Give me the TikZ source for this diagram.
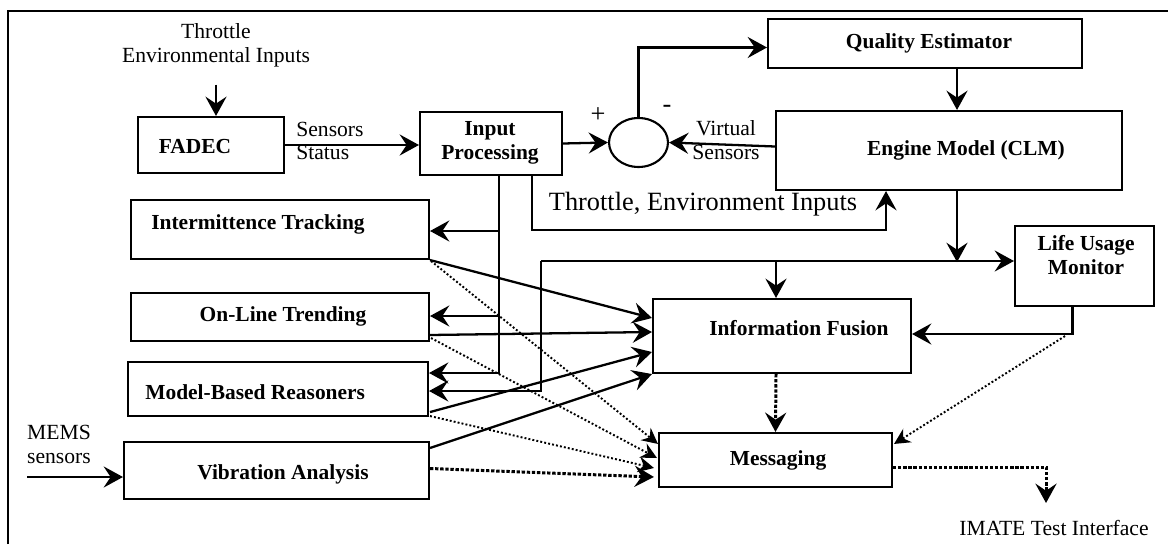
\documentclass[tikz,border=0pt]{standalone}
\usepackage{fontspec}
\setmainfont{Liberation Serif}
\usepackage{tikz}
\usetikzlibrary{arrows.meta,shapes.geometric,calc}

\begin{document}
\begin{tikzpicture}[x=0.02cm,y=-0.02cm,
    box/.style={draw,line width=1.2pt,rectangle,inner sep=0pt},
    txt/.style={inner sep=0pt,align=center,font=\fontsize{12.3}{13.6}\selectfont},
    btxt/.style={txt,font=\fontsize{12.2}{13.6}\selectfont\bfseries},
    arr/.style={line width=1.3pt,-{Stealth[length=11pt,width=12pt,inset=4pt]}},
    dotarr/.style={line width=1.1pt,dash pattern=on 1.1pt off 1.2pt,-{Stealth[length=9pt,width=9pt,inset=3pt]}},
    thickdot/.style={line width=1.7pt,dash pattern=on 1.9pt off 1pt,-{Stealth[length=11pt,width=12pt,inset=4pt]}}]
  \useasboundingbox (0,0) rectangle (1168,544);
  \draw[line width=1.1pt] (8,544) -- (8,11) -- (1168,11);

  \node[box,minimum width=2.92cm,minimum height=1.12cm] (fadec) at (211,145) {};
  \node[box,minimum width=2.84cm,minimum height=1.26cm] (inproc) at (491,143.5) {};
  \node[draw,ellipse,line width=1.2pt,minimum width=1.18cm,minimum height=0.98cm,inner sep=0pt] (sum) at (638.5,142.5) {};
  \node[box,minimum width=6.28cm,minimum height=0.98cm] (qe) at (925,43.5) {};
  \node[box,minimum width=6.92cm,minimum height=1.58cm] (clm) at (949,150.5) {};
  \node[box,minimum width=2.78cm,minimum height=1.6cm] (lum) at (1084.5,266) {};
  \node[box,minimum width=5.96cm,minimum height=1.18cm] (it) at (280,229.5) {};
  \node[box,minimum width=5.96cm,minimum height=0.96cm] (olt) at (280,317) {};
  \node[box,minimum width=6.0cm,minimum height=1.08cm] (mbr) at (278,389) {};
  \node[box,minimum width=6.1cm,minimum height=1.14cm] (va) at (276.5,470.5) {};
  \node[box,minimum width=5.16cm,minimum height=1.48cm] (fus) at (782,336) {};
  \node[box,minimum width=4.66cm,minimum height=1.08cm] (msg) at (775.5,460) {};

  \node[txt] (thr) at (216,45) {Throttle\\Environmental Inputs};
  \node[btxt] (fadec-t) at (195,147) {FADEC};
  \node[txt,anchor=west,align=left] (sens) at (296,141) {Sensors\\Status};
  \node[btxt] (inproc-t) at (490,143) {Input\\Processing};
  \node[txt,font=\fontsize{15}{17}\selectfont] (plus) at (598,115) {+};
  \node[txt,font=\fontsize{15}{17}\selectfont] (minus) at (667,109) {-};
  \node[txt] (virt) at (726,140) {Virtual\\Sensors};
  \node[btxt] (qe-t) at (929,43) {Quality Estimator};
  \node[btxt] (clm-t) at (966,150) {Engine Model (CLM)};
  \node[txt,font=\fontsize{15}{17}\selectfont] (threnv) at (703,204) {Throttle, Environment Inputs};
  \node[btxt] (lum-t) at (1086,255) {Life Usage\\Monitor};
  \node[btxt,anchor=west] (it-t) at (151,224) {Intermittence Tracking};
  \node[btxt] (olt-t) at (283,316) {On-Line Trending};
  \node[btxt,anchor=west] (mbr-t) at (145,392) {Model-Based Reasoners};
  \node[btxt] (va-t) at (283,474) {Vibration Analysis};
  \node[txt] (mems) at (59,444) {MEMS\\sensors};
  \node[btxt] (fus-t) at (799,328) {Information Fusion};
  \node[btxt] (msg-t) at (778,460) {Messaging};
  \node[txt] (imate) at (1054,528) {IMATE Test Interface};

  \coordinate (tap) at ($(inproc.south)+(8,0)$);
  \coordinate (busw) at (541,261);
  \coordinate (fusin) at ($(fus.north)+(-6,0)$);
  \coordinate (imout) at (1046,503);
  \coordinate (memsin) at (27,477);

  \draw[arr,shorten <=10pt] (thr.south) -- (thr.south |- fadec.north);
  \draw[arr] (fadec.east) -- (fadec.east -| inproc.west);
  \draw[arr] (inproc.east) -- (sum.west);
  \draw[arr] (sum.north) |- ($(qe.west)+(0,4)$);
  \draw[arr] ($(qe.south)+(32,0)$) -- ($(clm.north)+(8,0)$);
  \draw[arr] ($(clm.west)+(0,-4)$) -- (sum.east);
  \draw[arr] ($(inproc.south)+(41,0)$) -- ++(0,54) -| ($(clm.south)+(-63,0)$);
  \draw[line width=1.3pt] (tap) -- ++(0,198);
  \draw[arr] (tap) |- ($(it.east)+(0,1.5)$);
  \draw[arr] (tap) |- ($(olt.east)+(0,-1)$);
  \draw[arr] (tap) |- ($(mbr.east)+(0,-16)$);
  \draw[arr] ($(clm.south)+(8,0)$) -- ++(0,71);
  \draw[arr] (busw) -- (busw -| lum.west);
  \draw[arr] (busw -| fusin) -- (fusin);
  \draw[arr] (busw) |- ($(mbr.east)+(0,2)$);
  \draw[arr] ($(lum.south)+(-12,0)$) |- ($(fus.east)+(0,-2)$);
  \draw[dotarr] ($(lum.south)+(-19.5,29)$) -- ($(msg.north east)+(1,12)$);

  \draw[arr] (it.south east) -- ($(fus.west)+(0,-18)$);
  \draw[arr] ($(olt.east)+(0,18)$) -- ($(fus.west)+(0,-4)$);
  \draw[arr] ($(mbr.south east)+(1,-5)$) -- ($(fus.west)+(0,16)$);
  \draw[arr] ($(va.north east)+(0,7)$) -- (fus.south west);

  \draw[dotarr] ($(it.south east)+(1,1)$) -- ($(msg.north west)+(0,12)$);
  \draw[dotarr] ($(olt.south east)+(1,-4)$) -- ($(msg.west)+(-1,-2)$);
  \draw[dotarr] ($(mbr.south east)+(1,-1)$) -- ($(msg.west)+(-4,8)$);
  \draw[thickdot] ($(va.east)+(0,-2)$) -- ($(msg.west)+(-4,17)$);
  \draw[thickdot] ($(fus.south)+(-6,0)$) -- (msg.north);
  \draw[thickdot] ($(msg.east)+(0,7)$) -| (imout);
  \draw[arr] (memsin) -- (memsin -| va.west);
\end{tikzpicture}
\end{document}
